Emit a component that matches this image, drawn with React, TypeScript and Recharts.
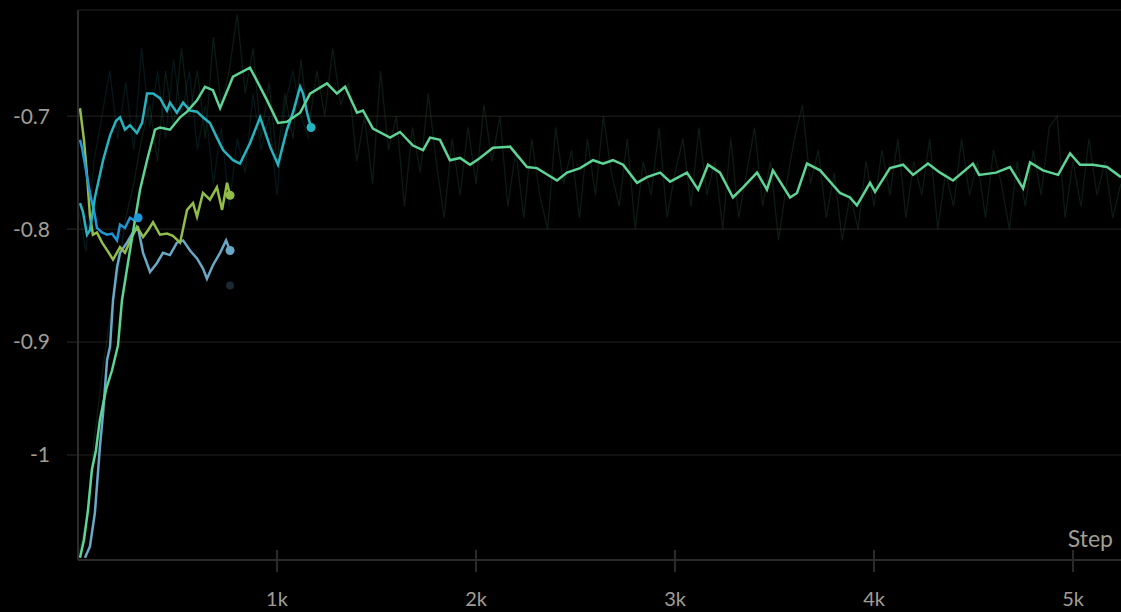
import { LineChart, Line, XAxis, YAxis, CartesianGrid, ReferenceDot } from "recharts"

// long run (green), smoothed
const greenSteps = [
  10, 30, 50, 70, 90, 110, 141, 171, 201, 221,
  261, 312, 347, 387, 412, 462, 513, 548, 598, 638,
  678, 714, 779, 864, 915, 950, 1005, 1050, 1116, 1166,
  1251, 1301, 1342, 1402, 1432, 1482, 1568, 1618, 1683, 1734,
  1769, 1819, 1869, 1920, 1970, 2020, 2085, 2171, 2256, 2306,
  2407, 2457, 2523, 2588, 2638, 2688, 2739, 2809, 2859, 2925,
  2975, 3060, 3116, 3166, 3226, 3291, 3342, 3412, 3462, 3492,
  3578, 3613, 3663, 3729, 3829, 3879, 3914, 3980, 4005, 4080,
  4146, 4196, 4271, 4332, 4397, 4497, 4528, 4613, 4683, 4749,
  4784, 4849, 4925, 4985, 5035, 5100, 5171, 5241,
]
const greenValues = [
  -1.091, -1.075, -1.049, -1.013, -0.996, -0.969, -0.942, -0.925, -0.903, -0.863,
  -0.819, -0.765, -0.739, -0.712, -0.71, -0.712, -0.701, -0.696, -0.686, -0.674,
  -0.677, -0.693, -0.665, -0.657, -0.674, -0.686, -0.706, -0.705, -0.697, -0.68,
  -0.671, -0.68, -0.674, -0.697, -0.695, -0.711, -0.719, -0.714, -0.726, -0.73,
  -0.719, -0.721, -0.739, -0.737, -0.743, -0.737, -0.728, -0.727, -0.745, -0.746,
  -0.757, -0.75, -0.746, -0.739, -0.742, -0.739, -0.743, -0.759, -0.754, -0.75,
  -0.758, -0.75, -0.765, -0.743, -0.75, -0.772, -0.763, -0.75, -0.765, -0.748,
  -0.772, -0.768, -0.742, -0.748, -0.768, -0.772, -0.779, -0.759, -0.767, -0.746,
  -0.743, -0.752, -0.742, -0.75, -0.757, -0.742, -0.752, -0.75, -0.745, -0.764,
  -0.741, -0.748, -0.752, -0.733, -0.743, -0.743, -0.745, -0.754,
]

// long run, raw (faint)
const greenRawSteps = [
  0, 40, 80, 120, 160, 200, 240, 280, 320, 360, 400, 440, 480, 520, 560, 600, 640, 680, 720, 760,
  800, 840, 880, 920, 960, 1000, 1040, 1080, 1120, 1160, 1200, 1240, 1280, 1320, 1360, 1400, 1440, 1480, 1520, 1560,
  1600, 1640, 1680, 1720, 1760, 1800, 1840, 1880, 1920, 1960, 2000, 2040, 2080, 2120, 2160, 2200, 2240, 2280, 2320, 2360,
  2400, 2440, 2480, 2520, 2560, 2600, 2640, 2680, 2720, 2760, 2800, 2840, 2880, 2920, 2960, 3000, 3040, 3080, 3120, 3160,
  3200, 3240, 3280, 3320, 3360, 3400, 3440, 3480, 3520, 3560, 3600, 3640, 3680, 3720, 3760, 3800, 3840, 3880, 3920, 3960,
  4000, 4040, 4080, 4120, 4160, 4200, 4240, 4280, 4320, 4360, 4400, 4440, 4480, 4520, 4560, 4600, 4640, 4680, 4720, 4760,
  4800, 4840, 4880, 4920, 4960, 5000, 5040, 5080, 5120, 5160, 5200, 5240,
]
const greenRawValues = [
  -1.09, -1.06, -0.99, -0.93, -0.88, -0.84, -0.79, -0.76, -0.72, -0.69, -0.74, -0.66, -0.71, -0.64, -0.7, -0.66, -0.72, -0.63, -0.69, -0.66,
  -0.61, -0.68, -0.64, -0.72, -0.67, -0.74, -0.68, -0.72, -0.65, -0.71, -0.66, -0.7, -0.64, -0.69, -0.67, -0.74, -0.7, -0.76, -0.66, -0.73,
  -0.7, -0.78, -0.71, -0.75, -0.68, -0.74, -0.79, -0.72, -0.77, -0.71, -0.76, -0.69, -0.74, -0.7, -0.78, -0.73, -0.79, -0.72, -0.77, -0.8,
  -0.71, -0.76, -0.73, -0.79, -0.72, -0.77, -0.7, -0.75, -0.78, -0.72, -0.8, -0.74, -0.77, -0.71, -0.79, -0.75, -0.72, -0.78, -0.71, -0.77,
  -0.74, -0.8, -0.72, -0.79, -0.75, -0.71, -0.78, -0.74, -0.81, -0.76, -0.72, -0.69, -0.76, -0.73, -0.79, -0.75, -0.81, -0.77, -0.8, -0.74,
  -0.78, -0.73, -0.77, -0.72, -0.79, -0.74, -0.77, -0.72, -0.8, -0.75, -0.78, -0.72, -0.77, -0.74, -0.79, -0.73, -0.76, -0.8, -0.74, -0.78,
  -0.73, -0.77, -0.71, -0.7, -0.79, -0.74, -0.78, -0.72, -0.77, -0.74, -0.79, -0.76,
]

// teal run
const cyanSteps = [
  10, 25, 45, 60, 85, 126, 161, 191, 211, 236,
  261, 296, 322, 347, 377, 412, 447, 462, 497, 528,
  563, 598, 628, 663, 698, 729, 779, 814, 864, 915,
  950, 965, 1005, 1050, 1080, 1116, 1131, 1151, 1171,
]
const cyanValues = [
  -0.777, -0.785, -0.805, -0.801, -0.772, -0.739, -0.717, -0.704, -0.701, -0.712,
  -0.708, -0.715, -0.706, -0.68, -0.68, -0.684, -0.695, -0.688, -0.697, -0.688,
  -0.695, -0.696, -0.701, -0.706, -0.719, -0.73, -0.739, -0.742, -0.724, -0.701,
  -0.719, -0.727, -0.743, -0.712, -0.697, -0.674, -0.68, -0.697, -0.71,
]
const cyanRawSteps = [
  0, 40, 80, 120, 160, 200, 240, 280, 320, 360, 400, 440, 480, 520, 560,
  600, 640, 680, 720, 760, 800, 840, 880, 920, 960, 1000, 1040, 1080, 1120, 1160,
]
const cyanRawValues = [
  -0.78, -0.82, -0.74, -0.7, -0.66, -0.72, -0.67, -0.73, -0.64, -0.71, -0.66, -0.72, -0.65, -0.7, -0.66,
  -0.73, -0.69, -0.76, -0.71, -0.78, -0.72, -0.75, -0.68, -0.73, -0.7, -0.77, -0.69, -0.66, -0.7, -0.72,
]

// blue run
const blueSteps = [10, 20, 40, 60, 85, 95, 121, 146, 171, 196, 211, 236, 261, 281, 302]
const blueValues = [
  -0.721, -0.728, -0.748, -0.768, -0.788, -0.799, -0.803, -0.805, -0.804, -0.81, -0.796, -0.799, -0.79, -0.792, -0.79,
]

// yellow-green run
const olivSteps = [
  10, 30, 45, 60, 75, 95, 121, 151, 176, 211,
  236, 271, 296, 327, 352, 377, 412, 447, 477, 513,
  548, 578, 598, 628, 663, 698, 724, 749, 764,
]
const olivValues = [
  -0.693, -0.721, -0.752, -0.788, -0.805, -0.803, -0.812, -0.82, -0.827, -0.816,
  -0.821, -0.807, -0.798, -0.807, -0.801, -0.794, -0.805, -0.804, -0.806, -0.812,
  -0.783, -0.777, -0.789, -0.768, -0.774, -0.763, -0.783, -0.759, -0.77,
]

// steel blue run
const steelSteps = [
  35, 60, 85, 110, 126, 146, 161, 176, 196, 211,
  246, 276, 302, 327, 362, 397, 427, 462, 497, 528,
  563, 598, 628, 648, 678, 714, 744, 764,
]
const steelValues = [
  -1.091, -1.081, -1.051, -0.993, -0.963, -0.916, -0.904, -0.863, -0.834, -0.821,
  -0.812, -0.803, -0.799, -0.821, -0.838, -0.83, -0.821, -0.823, -0.812, -0.81,
  -0.819, -0.826, -0.835, -0.844, -0.832, -0.821, -0.81, -0.819,
]

const yTicks = [-1, -0.9, -0.8, -0.7]
const xTicks = [1000, 2000, 3000, 4000, 5000]

const GREEN = "#5ed496"
const CYAN = "#27b4c0"
const BLUE = "#2196d6"
const OLIVE = "#92bd48"
const STEEL = "#6aa8c8"
const AXIS = "#2c2b27"
const GRID = "#22211e"
const TEXT = "#a09e94"
const FONT = "Lato, 'Noto Sans', sans-serif"

const toPoints = (steps: number[], values: number[]) =>
  steps.map((step, i) => ({ step, value: values[i] }))

const green = toPoints(greenSteps, greenValues)
const greenRaw = toPoints(greenRawSteps, greenRawValues)
const cyan = toPoints(cyanSteps, cyanValues)
const cyanRaw = toPoints(cyanRawSteps, cyanRawValues)
const blue = toPoints(blueSteps, blueValues)
const oliv = toPoints(olivSteps, olivValues)
const steel = toPoints(steelSteps, steelValues)

const last = (pts: { step: number; value: number }[]) => pts[pts.length - 1]

function StepTick(props: any) {
  const { x, y, payload } = props
  return (
    <g>
      <line x1={x} x2={x} y1={y - 10} y2={y + 12} stroke={AXIS} strokeWidth={2} />
      <text x={x} y={y + 46} textAnchor="middle" fill={TEXT} fontSize={20} fontFamily={FONT}>
        {payload.value / 1000}k
      </text>
    </g>
  )
}

export default function App() {
  return (
    <div style={{ position: "absolute", left: 0, top: 0, width: 1121, height: 612, background: "#000" }}>
      <LineChart width={1121} height={612} margin={{ top: 10, right: 0, bottom: 0, left: 0 }}>
        <CartesianGrid stroke={GRID} vertical={false} />
        <XAxis
          type="number"
          dataKey="step"
          domain={[0, 5241]}
          ticks={xTicks}
          allowDataOverflow
          height={52}
          axisLine={{ stroke: AXIS, strokeWidth: 2 }}
          tickLine={false}
          tickSize={0}
          tickMargin={0}
          tick={<StepTick />}
        />
        <YAxis
          type="number"
          dataKey="value"
          domain={[-1.093, -0.606]}
          ticks={yTicks}
          allowDataOverflow
          width={78}
          axisLine={{ stroke: AXIS, strokeWidth: 2 }}
          tickLine={{ stroke: AXIS }}
          tickSize={11}
          tickMargin={17}
          tick={{ fill: TEXT, fontSize: 21, fontFamily: FONT }}
          tickFormatter={(v: number) => String(v)}
        />
        <Line data={greenRaw} dataKey="value" type="linear" stroke={GREEN} strokeOpacity={0.13} strokeWidth={1.3} dot={false} activeDot={false} isAnimationActive={false} />
        <Line data={cyanRaw} dataKey="value" type="linear" stroke={CYAN} strokeOpacity={0.13} strokeWidth={1.3} dot={false} activeDot={false} isAnimationActive={false} />
        <Line data={steel} dataKey="value" type="linear" stroke={STEEL} strokeWidth={2.5} dot={false} activeDot={false} isAnimationActive={false} />
        <Line data={oliv} dataKey="value" type="linear" stroke={OLIVE} strokeWidth={2.5} dot={false} activeDot={false} isAnimationActive={false} />
        <Line data={blue} dataKey="value" type="linear" stroke={BLUE} strokeWidth={2.5} dot={false} activeDot={false} isAnimationActive={false} />
        <Line data={cyan} dataKey="value" type="linear" stroke={CYAN} strokeWidth={2.5} dot={false} activeDot={false} isAnimationActive={false} />
        <Line data={green} dataKey="value" type="linear" stroke={GREEN} strokeWidth={2.5} dot={false} activeDot={false} isAnimationActive={false} />
        <ReferenceDot x={764} y={-0.85} r={4} fill={STEEL} fillOpacity={0.25} stroke="none" />
        <ReferenceDot x={last(steel).step} y={last(steel).value} r={4.5} fill={STEEL} stroke="none" />
        <ReferenceDot x={last(oliv).step} y={last(oliv).value} r={4.5} fill={OLIVE} stroke="none" />
        <ReferenceDot x={last(blue).step} y={last(blue).value} r={4.5} fill={BLUE} stroke="none" />
        <ReferenceDot x={last(cyan).step} y={last(cyan).value} r={4.5} fill={CYAN} stroke="none" />
      </LineChart>
      <div
        style={{
          position: "absolute",
          right: 8,
          top: 527,
          fontSize: 23,
          lineHeight: "23px",
          color: TEXT,
          fontFamily: FONT,
        }}
      >
        Step
      </div>
    </div>
  )
}
